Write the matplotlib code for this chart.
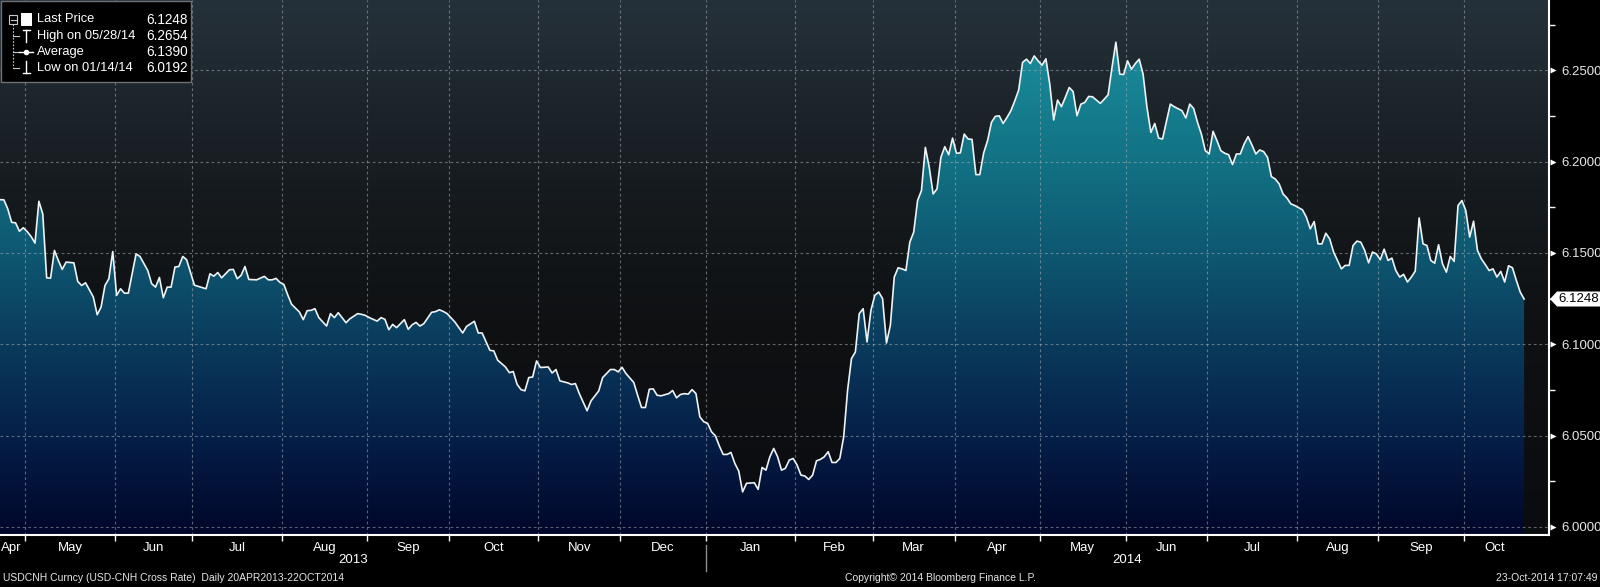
import matplotlib
matplotlib.use('Agg')
import matplotlib.pyplot as plt
import matplotlib.patches as mpatches
from matplotlib.lines import Line2D
from matplotlib.colors import LinearSegmentedColormap
import numpy as np
import pandas as pd

FONT = ['Liberation Sans', 'DejaVu Sans']
plt.rcParams['font.family'] = FONT

# ── data (trading-day number since 22-Apr-2013, USDCNH close) ──────────
start_date, end_date = '2013-04-22', '2014-10-22'

day = [
    0, 1, 2, 3, 4, 5, 6, 7, 8, 9, 10, 11, 12, 13, 14, 15, 16, 17, 19, 20,
    21, 22, 24, 25, 26, 27, 28, 29, 30, 31, 32, 33, 35, 36, 38, 39, 40, 41, 42, 43,
    44, 45, 46, 47, 48, 50, 51, 53, 54, 55, 56, 57, 59, 60, 61, 62, 63, 64, 66, 68,
    69, 70, 71, 72, 73, 74, 75, 77, 78, 79, 80, 81, 82, 84, 85, 86, 87, 89, 90, 92,
    93, 94, 95, 97, 98, 99, 100, 101, 102, 104, 105, 106, 107, 108, 109, 111, 112, 113, 114, 115,
    117, 119, 120, 122, 123, 124, 126, 127, 128, 130, 131, 132, 133, 134, 135, 136, 137, 138, 139, 141,
    142, 143, 144, 146, 147, 148, 149, 151, 152, 154, 155, 157, 158, 159, 160, 161, 163, 164, 165, 166,
    167, 168, 169, 170, 172, 173, 174, 175, 176, 177, 178, 179, 180, 181, 182, 183, 184, 185, 186, 187,
    188, 189, 190, 191, 192, 194, 195, 196, 197, 198, 199, 200, 201, 202, 203, 204, 205, 206, 207, 208,
    209, 210, 211, 212, 213, 214, 215, 216, 217, 218, 219, 220, 221, 222, 223, 224, 225, 226, 227, 228,
    229, 230, 231, 232, 233, 234, 235, 236, 237, 238, 239, 240, 241, 242, 243, 244, 245, 246, 247, 248,
    249, 250, 251, 252, 253, 254, 255, 256, 257, 258, 259, 260, 261, 262, 263, 264, 265, 266, 267, 268,
    269, 270, 271, 272, 273, 274, 275, 276, 277, 278, 279, 280, 281, 283, 284, 285, 286, 287, 288, 289,
    290, 291, 292, 293, 294, 295, 296, 297, 298, 299, 301, 302, 304, 305, 306, 307, 308, 309, 310, 311,
    312, 313, 314, 315, 316, 317, 318, 319, 320, 321, 322, 323, 324, 325, 326, 327, 328, 329, 330, 331,
    332, 333, 335, 336, 337, 338, 339, 340, 341, 342, 343, 345, 346, 347, 348, 349, 350, 351, 352, 353,
    354, 355, 356, 357, 358, 359, 360, 361, 362, 363, 364, 365, 366, 367, 368, 369, 370, 371, 372, 373,
    374, 375, 376, 377, 378, 379, 380, 381, 382, 383, 384, 385, 386, 387, 388, 389, 390, 391, 392,
]

price = [
    6.1792, 6.1791, 6.1741, 6.1668, 6.1665, 6.1619, 6.1638, 6.1617, 6.1590, 6.1554,
    6.1783, 6.1714, 6.1364, 6.1362, 6.1514, 6.1459, 6.1410, 6.1450, 6.1446, 6.1344,
    6.1322, 6.1337, 6.1259, 6.1162, 6.1204, 6.1322, 6.1359, 6.1508, 6.1268, 6.1304,
    6.1280, 6.1280, 6.1495, 6.1481, 6.1404, 6.1332, 6.1313, 6.1366, 6.1255, 6.1313,
    6.1313, 6.1423, 6.1426, 6.1481, 6.1463, 6.1324, 6.1317, 6.1304, 6.1386, 6.1373,
    6.1393, 6.1364, 6.1408, 6.1410, 6.1359, 6.1377, 6.1426, 6.1355, 6.1353, 6.1372,
    6.1353, 6.1353, 6.1361, 6.1339, 6.1328, 6.1271, 6.1219, 6.1177, 6.1135, 6.1184,
    6.1186, 6.1195, 6.1146, 6.1100, 6.1168, 6.1146, 6.1173, 6.1118, 6.1140, 6.1168,
    6.1164, 6.1158, 6.1146, 6.1127, 6.1146, 6.1137, 6.1080, 6.1109, 6.1091, 6.1135,
    6.1082, 6.1107, 6.1120, 6.1100, 6.1113, 6.1175, 6.1179, 6.1189, 6.1180, 6.1168,
    6.1122, 6.1062, 6.1098, 6.1126, 6.1062, 6.1062, 6.0967, 6.0964, 6.0913, 6.0876,
    6.0845, 6.0851, 6.0781, 6.0752, 6.0745, 6.0818, 6.0821, 6.0909, 6.0873, 6.0876,
    6.0843, 6.0862, 6.0800, 6.0789, 6.0780, 6.0785, 6.0730, 6.0636, 6.0690, 6.0745,
    6.0818, 6.0862, 6.0862, 6.0849, 6.0874, 6.0840, 6.0791, 6.0721, 6.0654, 6.0654,
    6.0754, 6.0756, 6.0721, 6.0718, 6.0730, 6.0747, 6.0707, 6.0725, 6.0730, 6.0727,
    6.0752, 6.0730, 6.0603, 6.0576, 6.0567, 6.0521, 6.0499, 6.0444, 6.0397, 6.0397,
    6.0408, 6.0348, 6.0306, 6.0192, 6.0239, 6.0242, 6.0206, 6.0326, 6.0311, 6.0384,
    6.0430, 6.0384, 6.0311, 6.0321, 6.0366, 6.0375, 6.0339, 6.0284, 6.0279, 6.0260,
    6.0284, 6.0362, 6.0370, 6.0384, 6.0412, 6.0353, 6.0353, 6.0375, 6.0494, 6.0749,
    6.0922, 6.0958, 6.1168, 6.1195, 6.1013, 6.1186, 6.1268, 6.1286, 6.1250, 6.1007,
    6.1104, 6.1368, 6.1419, 6.1413, 6.1404, 6.1559, 6.1614, 6.1787, 6.1842, 6.2078,
    6.1969, 6.1823, 6.1851, 6.2024, 6.2082, 6.2038, 6.2129, 6.2046, 6.2048, 6.2151,
    6.2124, 6.2122, 6.1929, 6.1929, 6.2048, 6.2115, 6.2215, 6.2248, 6.2251, 6.2209,
    6.2242, 6.2279, 6.2333, 6.2392, 6.2543, 6.2561, 6.2537, 6.2579, 6.2552, 6.2528,
    6.2563, 6.2424, 6.2228, 6.2337, 6.2301, 6.2352, 6.2406, 6.2384, 6.2251, 6.2315,
    6.2324, 6.2357, 6.2355, 6.2319, 6.2342, 6.2366, 6.2515, 6.2654, 6.2479, 6.2477,
    6.2552, 6.2506, 6.2537, 6.2561, 6.2479, 6.2297, 6.2160, 6.2209, 6.2129, 6.2124,
    6.2315, 6.2301, 6.2279, 6.2239, 6.2315, 6.2291, 6.2215, 6.2150, 6.2060, 6.2042,
    6.2166, 6.2115, 6.2060, 6.2046, 6.2038, 6.1984, 6.2042, 6.2042, 6.2097, 6.2137,
    6.2091, 6.2042, 6.2064, 6.2055, 6.2024, 6.1918, 6.1905, 6.1878, 6.1823, 6.1801,
    6.1769, 6.1760, 6.1736, 6.1696, 6.1632, 6.1672, 6.1550, 6.1550, 6.1608, 6.1577,
    6.1505, 6.1413, 6.1432, 6.1432, 6.1541, 6.1565, 6.1559, 6.1514, 6.1446, 6.1505,
    6.1495, 6.1463, 6.1521, 6.1459, 6.1472, 6.1404, 6.1368, 6.1383, 6.1341, 6.1368,
    6.1401, 6.1692, 6.1550, 6.1541, 6.1459, 6.1444, 6.1545, 6.1441, 6.1395, 6.1481,
    6.1454, 6.1760, 6.1787, 6.1732, 6.1587, 6.1674, 6.1514, 6.1468, 6.1437, 6.1404,
    6.1413, 6.1368, 6.1399, 6.1341, 6.1430, 6.1419, 6.1350, 6.1286, 6.1248,
]

y_ticks = [6.00, 6.05, 6.10, 6.15, 6.20, 6.25]
y_minor = [6.025, 6.075, 6.125, 6.175, 6.225, 6.275]
legend_labels = ['Last Price', 'High on 05/28/14', 'Average', 'Low on 01/14/14']
legend_values = ['6.1248', '6.2654', '6.1390', '6.0192']
last_price = 6.1248
footer_left = 'USDCNH Curncy (USD-CNH Cross Rate)  Daily 20APR2013-22OCT2014'
footer_mid = 'Copyright\u00a9 2014 Bloomberg Finance L.P.'
footer_right = '23-Oct-2014 17:07:49'

# ── figure ────────────────────────────────────
W, H = 1600, 587
fig = plt.figure(figsize=(W / 100, H / 100), dpi=100, facecolor='black')
ax = fig.add_axes([0, 1 - 535 / H, 1549 / W, 535 / H])

bdays = pd.bdate_range(start_date, end_date)
x_max = 398.4
y_lo, y_hi = 5.9956, 6.2885

# background gradient
bg_cmap = LinearSegmentedColormap.from_list(
    'bg', [(0, '#0b0c10'), (0.4, '#0f1113'), (0.65, '#161b1f'), (1, '#25313a')])
grad = np.linspace(0, 1, 256).reshape(-1, 1)
ax.imshow(grad, cmap=bg_cmap, origin='lower', aspect='auto',
          extent=[0, x_max, y_lo, y_hi], zorder=0)

# area fill gradient, clipped to the price curve
fill_cmap = LinearSegmentedColormap.from_list(
    'fill', [(0, '#01062a'), (0.19, '#052049'), (0.36, '#0a3b5c'),
             (0.53, '#0e5872'), (0.70, '#127284'), (0.87, '#188696'), (1, '#1d95a5')])
im = ax.imshow(grad, cmap=fill_cmap, origin='lower', aspect='auto',
               extent=[0, x_max, y_lo, y_hi], zorder=1)
verts = [(day[0], y_lo)] + list(zip(day, price)) + [(day[-1], y_lo)]
area = mpatches.Polygon(verts, closed=True, facecolor='none', edgecolor='none')
ax.add_patch(area)
im.set_clip_path(area)

ax.plot(day, price, color='#eef3f5', lw=1.2, zorder=4)

ax.set_xlim(0, x_max)
ax.set_ylim(y_lo, y_hi)

# month boundaries / label centres
months = bdays.to_period('M')
first_idx, centers, names = [], [], []
for m in months.unique():
    idx = np.where(months == m)[0]
    first_idx.append(idx[0])
    centers.append((idx[0] + idx[-1]) / 2)
    names.append(m.strftime('%b'))
bounds = [i - 0.5 for i in first_idx[1:]]

grid_kw = dict(color='#a7adb3', lw=0.8, ls=(0, (2.5, 2.5)), alpha=0.55, zorder=3)
for b in bounds:
    ax.axvline(b, **grid_kw)
for t in y_ticks:
    ax.axhline(t, **grid_kw)

# axes styling
for s in ['top', 'left']:
    ax.spines[s].set_visible(False)
for s in ['right', 'bottom']:
    ax.spines[s].set_color('white')
    ax.spines[s].set_linewidth(1.5)
    ax.spines[s].set_zorder(5)

ax.set_xticks(bounds)
ax.set_xticklabels([])
ax.set_xticks(centers, names, minor=True)
ax.tick_params(axis='x', which='major', direction='out', length=4, color='white', width=1)
ax.tick_params(axis='x', which='minor', length=0, pad=5, labelcolor='white', labelsize=9.5)

ax.yaxis.tick_right()
ax.set_yticks(y_ticks)
ax.set_yticklabels([f'{v:.4f}' for v in y_ticks])
ax.set_yticks(y_minor, minor=True)
ax.tick_params(axis='y', which='major', length=0, pad=9, labelcolor='#e8e8e8', labelsize=9.5)
ax.tick_params(axis='y', which='minor', direction='out', length=4, color='white', width=1)
yax_tr = ax.get_yaxis_transform()
ax.plot([1.0026] * len(y_ticks), y_ticks, ls='none', marker='>', ms=5, color='white',
        mec='none', transform=yax_tr, clip_on=False, zorder=6)

# years
xax_tr = ax.get_xaxis_transform()
year_split = first_idx[names.index('Jan', 1)] - 0.5
ax.text(year_split / 2, -25 / 535, '2013', transform=xax_tr, ha='center', va='center',
        color='white', fontsize=9.5)
ax.text((year_split + x_max) / 2, -25 / 535, '2014', transform=xax_tr, ha='center',
        va='center', color='white', fontsize=9.5)
ax.plot([year_split, year_split], [-10 / 535, -36 / 535], transform=xax_tr,
        color='#8c8c8c', lw=1, clip_on=False)

# last price tag
yp = H - ax.transData.transform((0, last_price))[1]
tag = [(1550, yp), (1557, yp - 7.5), (1600, yp - 7.5), (1600, yp + 7.5), (1557, yp + 7.5)]
fig.patches.append(mpatches.Polygon([(x / W, 1 - y / H) for x, y in tag], closed=True,
                                    facecolor='white', edgecolor='none',
                                    transform=fig.transFigure))
fig.text(1558 / W, 1 - yp / H, f'{last_price:.4f}', color='black', fontsize=9.5,
         ha='left', va='center')

# footer
fig.text(3 / W, 1 - 578 / H, footer_left, color='#e6e6e6', fontsize=7.5, va='center')
fig.text(940 / W, 1 - 578 / H, footer_mid, color='#e6e6e6', fontsize=7.5, va='center', ha='center')
fig.text(1597 / W, 1 - 578 / H, footer_right, color='#e6e6e6', fontsize=7.5, va='center', ha='right')

# ── legend box ────────────────────────────────
def P(x, y):
    return (x / W, 1 - y / H)

def fline(xs, ys, **kw):
    fig.add_artist(Line2D([x / W for x in xs], [1 - y / H for y in ys],
                          transform=fig.transFigure, **kw))

fig.patches.append(mpatches.Rectangle(P(1, 82), 190 / W, 81 / H, facecolor='black',
                                      edgecolor='#707070', lw=1, transform=fig.transFigure))
row_y = [19.5, 36, 52, 68]
tree = dict(color='#c8c8c8', lw=0.8)
fline([13, 13], [24, 68], ls=(0, (1.5, 1.5)), **tree)
for y in row_y[1:]:
    fline([13, 19], [y, y], **tree)
fig.patches.append(mpatches.Rectangle(P(9, 23.5), 8 / W, 8 / H, facecolor='black',
                                      edgecolor='#c8c8c8', lw=0.8, transform=fig.transFigure))
fline([10.5, 15.5], [19.5, 19.5], **tree)
fig.patches.append(mpatches.Rectangle(P(21, 25.5), 11 / W, 12 / H, facecolor='white',
                                      edgecolor='none', transform=fig.transFigure))
sym = dict(color='white', lw=1)
fline([26, 26], [30, 42], **sym)
fline([22.5, 29.5], [30, 30], **sym)
fline([19, 33], [52, 52], **sym)
fig.add_artist(Line2D([26 / W], [1 - 52 / H], marker='o', ms=3, color='white',
                      transform=fig.transFigure))
fline([26, 26], [61, 73], **sym)
fline([22.5, 29.5], [73, 73], **sym)
for lab, val, y in zip(legend_labels, legend_values, row_y):
    fig.text(37 / W, 1 - y / H, lab, color='white', fontsize=9.3, va='center')
    fig.text(188 / W, 1 - y / H, val, color='white', fontsize=9.8, va='center', ha='right')

fig.savefig('out.png', dpi=100, facecolor='black')
